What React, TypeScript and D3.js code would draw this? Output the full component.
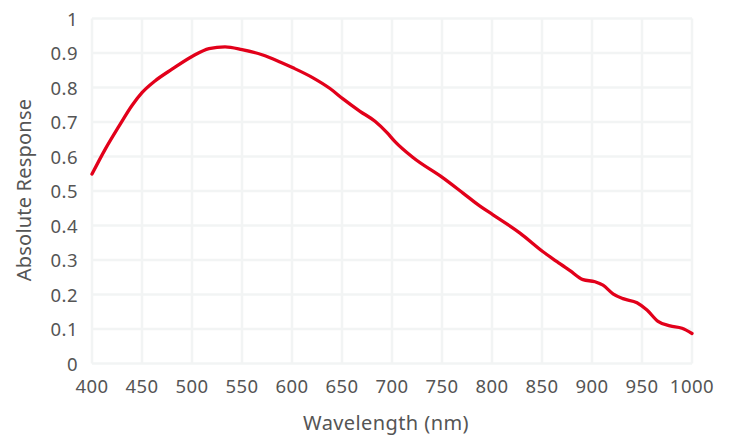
import * as d3 from 'd3';
import { useEffect, useRef } from 'react';

const wavelengths = [400, 413, 427, 440, 450, 463, 480, 500, 517, 533, 550, 570, 588, 601, 621, 638, 651, 668, 683, 695, 703, 721, 751, 771, 788, 801, 828, 851, 865, 878, 891, 903, 911, 921, 931, 945, 955, 966, 978, 990, 1000];
const response = [0.549, 0.62, 0.688, 0.748, 0.785, 0.819, 0.853, 0.89, 0.913, 0.918, 0.91, 0.895, 0.874, 0.857, 0.828, 0.797, 0.767, 0.731, 0.702, 0.669, 0.643, 0.597, 0.538, 0.494, 0.456, 0.431, 0.378, 0.324, 0.295, 0.269, 0.243, 0.237, 0.227, 0.202, 0.188, 0.176, 0.155, 0.122, 0.109, 0.102, 0.087];
const xTicks = [400, 450, 500, 550, 600, 650, 700, 750, 800, 850, 900, 950, 1000];
const yTicks = [0, 0.1, 0.2, 0.3, 0.4, 0.5, 0.6, 0.7, 0.8, 0.9, 1];

const W = 730;
const H = 436;
const margin = { top: 18.5, right: 38, bottom: 72.5, left: 92 };

const App = () => {
  const svgRef = useRef<SVGSVGElement>(null);

  useEffect(() => {
    const svg = d3.select(svgRef.current);
    svg.selectAll('*').remove();

    const x = d3.scaleLinear().domain([400, 1000]).range([margin.left, W - margin.right]);
    const y = d3.scaleLinear().domain([0, 1]).range([H - margin.bottom, margin.top]);

    const font = "'Noto Sans', 'Open Sans', sans-serif";

    // grid
    svg
      .append('g')
      .selectAll('line')
      .data(xTicks)
      .join('line')
      .attr('x1', (d) => x(d))
      .attr('x2', (d) => x(d))
      .attr('y1', y(0))
      .attr('y2', y(1))
      .attr('stroke', '#f2f4f4')
      .attr('stroke-width', 2.5);

    svg
      .append('g')
      .selectAll('line')
      .data(yTicks)
      .join('line')
      .attr('x1', x(400))
      .attr('x2', x(1000))
      .attr('y1', (d) => y(d))
      .attr('y2', (d) => y(d))
      .attr('stroke', '#f2f4f4')
      .attr('stroke-width', 2.5);

    // tick labels
    svg
      .append('g')
      .selectAll('text')
      .data(xTicks)
      .join('text')
      .attr('x', (d) => x(d))
      .attr('y', y(0) + 29)
      .attr('text-anchor', 'middle')
      .style('font-family', font)
      .style('font-size', '18.5px')
      .style('letter-spacing', '0.5px')
      .style('fill', '#555')
      .text((d) => d);

    svg
      .append('g')
      .selectAll('text')
      .data(yTicks)
      .join('text')
      .attr('x', 78)
      .attr('y', (d) => y(d) + 7)
      .attr('text-anchor', 'end')
      .style('font-family', font)
      .style('font-size', '18.5px')
      .style('letter-spacing', '0.5px')
      .style('fill', '#555')
      .text((d) => d3.format('~g')(d));

    // axis titles
    svg
      .append('text')
      .attr('x', 386)
      .attr('y', 430)
      .attr('text-anchor', 'middle')
      .style('font-family', font)
      .style('font-size', '20px')
      .style('letter-spacing', '0.4px')
      .style('fill', '#555')
      .text('Wavelength (nm)');

    svg
      .append('text')
      .attr('transform', 'translate(31, 190) rotate(-90)')
      .attr('text-anchor', 'middle')
      .style('font-family', font)
      .style('font-size', '20px')
      .style('letter-spacing', '0.2px')
      .style('fill', '#555')
      .text('Absolute Response');

    const line = d3
      .line<number>()
      .x((d, i) => x(wavelengths[i]))
      .y((d) => y(d))
      .curve(d3.curveMonotoneX);

    svg
      .append('path')
      .datum(response)
      .attr('d', line)
      .attr('fill', 'none')
      .attr('stroke', '#e2001a')
      .attr('stroke-width', 3.3)
      .attr('stroke-linejoin', 'round')
      .attr('stroke-linecap', 'round');
  }, []);

  return (
    <svg
      ref={svgRef}
      width={W}
      height={H}
      style={{ position: 'absolute', left: 0, top: 0, background: '#fff' }}
    ></svg>
  );
};

export default App;
